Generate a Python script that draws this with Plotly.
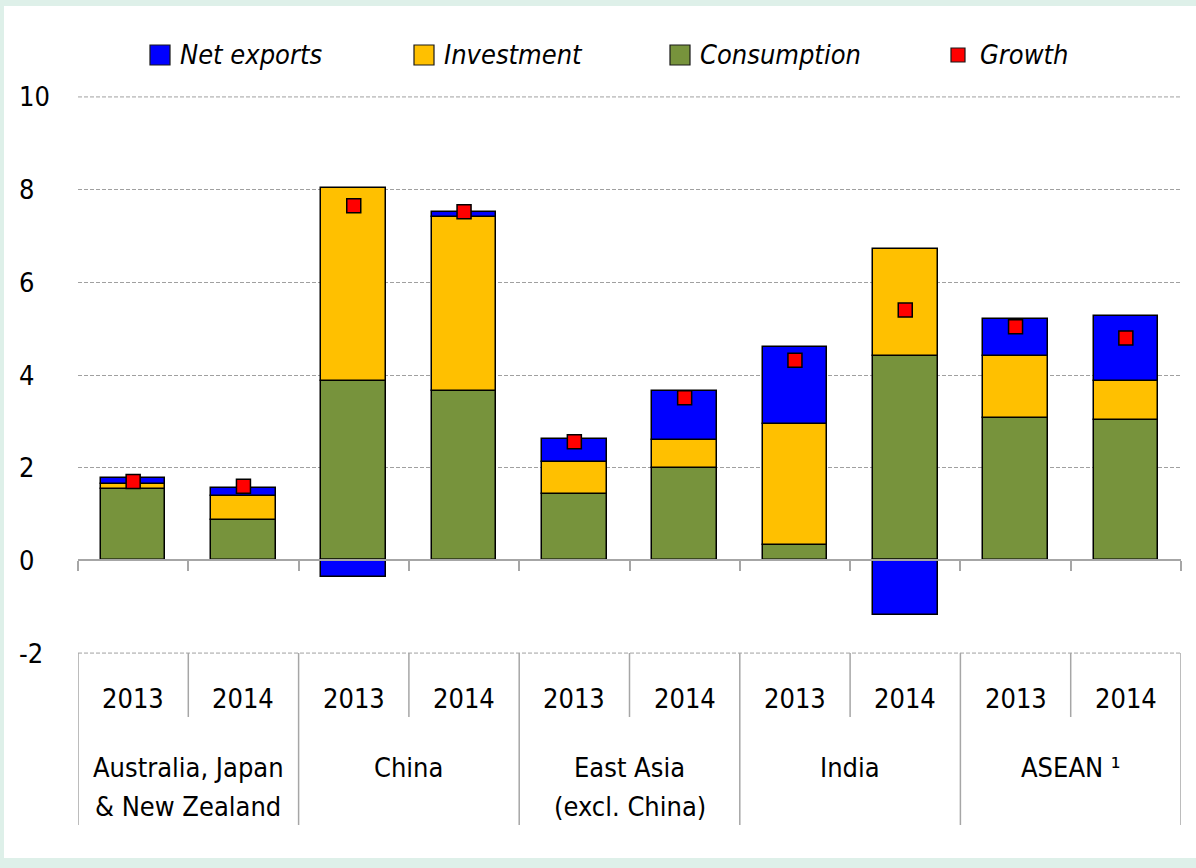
import plotly.graph_objects as go

# ---------------- data ----------------
groups = ["Australia, Japan<br>& New Zealand", "China", "East Asia<br>(excl. China)", "India", "ASEAN ¹"]
years = ["2013", "2014"]
consumption = [1.53, 0.88, 3.86, 3.65, 1.44, 2.00, 0.34, 4.40, 3.08, 3.03]
investment = [0.11, 0.50, 4.17, 3.76, 0.68, 0.60, 2.60, 2.32, 1.34, 0.85]
net_exports = [0.13, 0.18, -0.35, 0.11, 0.49, 1.06, 1.66, -1.18, 0.78, 1.40]
growth = [1.70, 1.60, 7.65, 7.52, 2.56, 3.51, 4.32, 5.40, 5.04, 4.80]
y_ticks = [-2, 0, 2, 4, 6, 8, 10]
legend_names = ["Net exports", "Investment", "Consumption", "Growth"]

# ---------------- style ----------------
FONT = "Liberation Sans Narrow, DejaVu Sans Condensed, sans-serif"
FS = 27
C_NX, C_INV, C_CONS, C_GROW = "#0000FF", "#FFC000", "#77933C", "#FF0000"
GRID = "#a0a0a0"
AXIS = "#a6a6a6"
W, H = 1196, 868
L, R, T, B = 78, 1181, 96, 654
PW, PH = R - L, B - T
Y_RANGE = [-2.02, 10.02]
ZERO_POS = (0 - Y_RANGE[0]) / (Y_RANGE[1] - Y_RANGE[0])


def fx(px):
    return (px - L) / PW


def fy(py):
    return (B - py) / PH


n = len(consumption)
xpos = list(range(n))
bar_w = 0.585
outline = dict(color="#000000", width=1.5)

fig = go.Figure()
fig.add_trace(go.Bar(x=xpos, y=consumption, name=legend_names[2], width=bar_w,
                     marker=dict(color=C_CONS, line=outline), showlegend=False))
fig.add_trace(go.Bar(x=xpos, y=investment, name=legend_names[1], width=bar_w,
                     marker=dict(color=C_INV, line=outline), showlegend=False))
fig.add_trace(go.Bar(x=xpos, y=net_exports, name=legend_names[0], width=bar_w,
                     marker=dict(color=C_NX, line=outline), showlegend=False))
fig.add_trace(go.Scatter(x=xpos, y=growth, name=legend_names[3], mode="markers",
                         marker=dict(symbol="square", size=14, color=C_GROW,
                                     line=dict(color="#000000", width=1.5)),
                         showlegend=False))

shapes = []
annotations = []
txt_font = dict(family=FONT, size=FS, color="#000000")

# white panel over mint background
shapes.append(dict(type="rect", xref="paper", yref="paper", layer="below",
                   x0=fx(4), x1=fx(W + 2), y0=fy(858), y1=fy(6),
                   fillcolor="#ffffff", line=dict(width=0)))

# outer gridlines (plotly omits grid lines at the plot edges)
for v in (y_ticks[0], y_ticks[-1]):
    shapes.append(dict(type="line", xref="paper", yref="y", x0=0, x1=1, y0=v, y1=v,
                       layer="below", line=dict(color=GRID, width=1, dash="4px,2px")))

# y tick labels (left-aligned)
for v in y_ticks:
    annotations.append(dict(xref="paper", yref="y", x=fx(17), y=v, text=str(v),
                            xanchor="left", yanchor="middle", showarrow=False,
                            font=txt_font))

# category labels and dividers
for i in range(n):
    annotations.append(dict(xref="x", yref="paper", x=i, y=fy(698),
                            text=years[i % 2], xanchor="center", yanchor="middle",
                            showarrow=False, font=txt_font))
line_centers = [767, 806]
for g, name in enumerate(groups):
    for j, part in enumerate(name.split("<br>")):
        annotations.append(dict(xref="x", yref="paper", x=2 * g + 0.5, y=fy(line_centers[j]),
                                text=part, xanchor="center", yanchor="middle",
                                showarrow=False, font=txt_font))
    # year divider inside group
    shapes.append(dict(type="line", xref="x", yref="paper",
                       x0=2 * g + 0.5, x1=2 * g + 0.5, y0=fy(653), y1=fy(717),
                       line=dict(color=AXIS, width=1.5)))
for k in range(len(groups) + 1):
    xb = 2 * k - 0.5
    shapes.append(dict(type="line", xref="x", yref="paper",
                       x0=xb, x1=xb, y0=fy(653), y1=fy(825),
                       line=dict(color=AXIS, width=1.5)))

# manual legend
leg_items = [
    (legend_names[0], C_NX, 150, 20, 178),
    (legend_names[1], C_INV, 414, 20, 442),
    (legend_names[2], C_CONS, 670, 20, 698),
    (legend_names[3], C_GROW, 951, 14, 978),
]
ly = 55
for name, col, sx, size, tx in leg_items:
    shapes.append(dict(type="rect", xref="paper", yref="paper",
                       x0=fx(sx), x1=fx(sx + size), y0=fy(ly + size / 2), y1=fy(ly - size / 2),
                       fillcolor=col, line=dict(color="#1a1a1a", width=1.2)))
    annotations.append(dict(xref="paper", yref="paper", x=fx(tx), y=fy(ly),
                            text=name, xanchor="left", yanchor="middle", showarrow=False,
                            font=dict(family=FONT, size=FS, color="#000000", style="italic")))

fig.update_layout(
    width=W, height=H,
    margin=dict(l=L, r=W - R, t=T, b=H - B, pad=0),
    paper_bgcolor="#def0e9",
    plot_bgcolor="rgba(0,0,0,0)",
    barmode="relative",
    bargap=0,
    showlegend=False,
    font=dict(family=FONT, size=FS, color="#000000"),
    shapes=shapes,
    annotations=annotations,
    xaxis=dict(type="linear", range=[-0.5, n - 0.5], anchor="free", position=ZERO_POS,
               showline=True, linecolor=AXIS, linewidth=2,
               ticks="outside", tickvals=[k - 0.5 for k in range(n + 1)],
               ticklen=10, tickwidth=1.5, tickcolor=AXIS,
               showticklabels=False, showgrid=False, zeroline=False, fixedrange=True),
    yaxis=dict(range=Y_RANGE, tickvals=y_ticks, showticklabels=False,
               showgrid=True, gridcolor=GRID, gridwidth=1, griddash="4px,2px",
               zeroline=False, showline=False, fixedrange=True),
)

fig.write_html("out.html", config={"displayModeBar": False},
               post_script="document.body.style.margin='0';")
